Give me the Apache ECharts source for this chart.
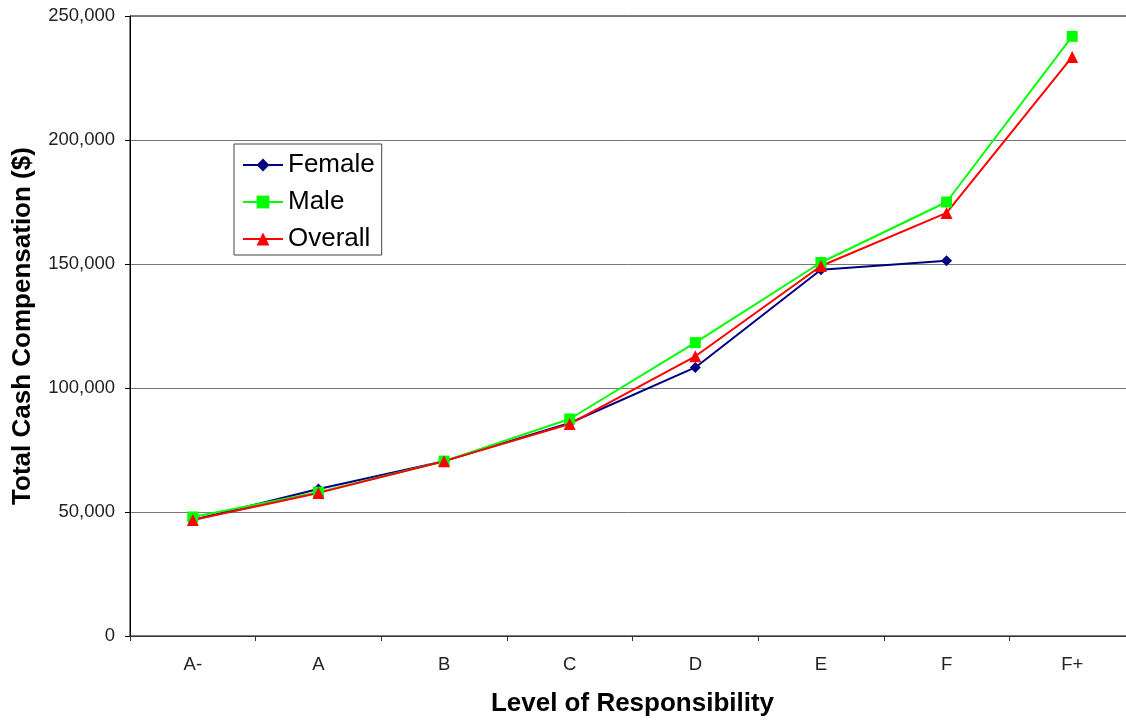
<!DOCTYPE html>
<html><head><meta charset="utf-8">
<script src="https://cdn.jsdelivr.net/npm/echarts@6/dist/echarts.min.js"></script>
<style>html,body{margin:0;padding:0;background:#fff}#c{width:1126px;height:721px}</style>
</head><body><div id="c"></div>
<script>
const categories = ['A-','A','B','C','D','E','F','F+'];
const female = [46800, 59300, 70500, 85900, 108300, 147700, 151300, null];
const male = [48000, 58000, 70500, 87500, 118300, 150600, 175000, 241800];
const overall = [46800, 57700, 70500, 85500, 112800, 149200, 170600, 233500];
const yTicks = {min: 0, max: 250000, interval: 50000};

const chart = echarts.init(document.getElementById('c'));
const font = 'Liberation Sans, Arial, sans-serif';
function mk(name, data, color, symbol, size) {
  return {name, type:'line', data, symbol, symbolSize:size, showSymbol:true,
    lineStyle:{color, width:2}, itemStyle:{color}, connectNulls:false, animation:false};
}
chart.setOption({
  animation:false,
  grid:{left:130, top:16, width:1005, height:620, show:true, borderColor:'#000', borderWidth:1,
    containLabel:false, outerBoundsMode:'none'},
  legend:{orient:'vertical', left:234, top:144, padding:[8,7,3,8], itemGap:11,
    itemWidth:40, itemHeight:16, borderColor:'#444', borderWidth:1, backgroundColor:'#fff',
    textStyle:{fontFamily:font, fontSize:26, color:'#000', padding:[0,0,0,0]},
    data:['Female','Male','Overall']},
  xAxis:{type:'category', data:categories, boundaryGap:true,
    name:'Level of Responsibility', nameLocation:'middle', nameGap:55,
    nameTextStyle:{fontFamily:font, fontSize:26, fontWeight:'bold', color:'#000'},
    axisLine:{lineStyle:{color:'#333', width:1}},
    axisTick:{show:true, length:5, lineStyle:{color:'#333'}},
    axisLabel:{fontFamily:font, fontSize:18.5, color:'#222', margin:19.5}},
  yAxis:{type:'value', min:yTicks.min, max:yTicks.max, interval:yTicks.interval,
    name:'Total Cash Compensation ($)', nameLocation:'middle', nameGap:94,
    nameTextStyle:{fontFamily:font, fontSize:26, fontWeight:'bold', color:'#000'},
    axisLine:{show:true, lineStyle:{color:'#000', width:1}},
    axisTick:{show:true, length:5, lineStyle:{color:'#000'}},
    axisLabel:{fontFamily:font, fontSize:18.5, color:'#222', margin:15,
      formatter:v=>v.toLocaleString('en-US')},
    splitLine:{lineStyle:{color:'#777', width:1}}},
  series:[
    mk('Female', female, '#000080', 'diamond', 11),
    mk('Male', male, '#00ff00', 'rect', 11),
    mk('Overall', overall, '#ff0000', 'triangle', 12)
  ]
});
</script></body></html>
